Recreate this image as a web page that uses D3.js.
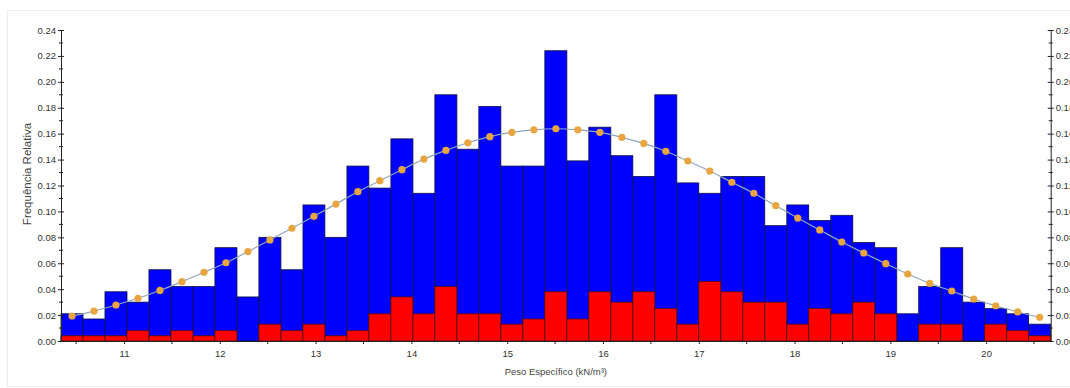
<!DOCTYPE html>
<html>
<head>
<meta charset="utf-8">
<script src="https://cdn.jsdelivr.net/npm/d3@7"></script>
<style>
  html, body { margin: 0; padding: 0; background: #fff; }
  svg { display: block; font-family: "Liberation Sans", Arial, sans-serif; }
</style>
</head>
<body>
<svg id="chart" width="1070" height="388"></svg>
<script>
// ---- Data ----
const binEdges = [10.342, 10.572, 10.801, 11.031, 11.260, 11.490, 11.720, 11.949, 12.179, 12.408,
  12.638, 12.868, 13.097, 13.327, 13.556, 13.786, 14.016, 14.245, 14.475, 14.704,
  14.934, 15.164, 15.393, 15.623, 15.852, 16.082, 16.312, 16.541, 16.771, 17.000,
  17.230, 17.460, 17.689, 17.919, 18.148, 18.378, 18.608, 18.837, 19.067, 19.296,
  19.526, 19.756, 19.985, 20.215, 20.444, 20.674];

const blueFreq = [0.021, 0.017, 0.038, 0.030, 0.055, 0.042, 0.042, 0.072, 0.034, 0.080,
  0.055, 0.105, 0.080, 0.135, 0.118, 0.156, 0.114, 0.190, 0.148, 0.181,
  0.135, 0.135, 0.224, 0.139, 0.165, 0.143, 0.127, 0.190, 0.122, 0.114,
  0.127, 0.127, 0.089, 0.105, 0.093, 0.097, 0.076, 0.072, 0.021, 0.042,
  0.072, 0.030, 0.025, 0.021, 0.013];

const redFreq = [0.004, 0.004, 0.004, 0.008, 0.004, 0.008, 0.004, 0.008, 0.000, 0.013,
  0.008, 0.013, 0.004, 0.008, 0.021, 0.034, 0.021, 0.042, 0.021, 0.021,
  0.013, 0.017, 0.038, 0.017, 0.038, 0.030, 0.038, 0.025, 0.013, 0.046,
  0.038, 0.030, 0.030, 0.013, 0.025, 0.021, 0.030, 0.021, 0.000, 0.013,
  0.013, 0.000, 0.013, 0.008, 0.004];

const normalFreq = [0.0193, 0.0231, 0.0278, 0.0330, 0.0390, 0.0458, 0.0530, 0.0604, 0.0690, 0.0780,
  0.0870, 0.0962, 0.1057, 0.1152, 0.1237, 0.1322, 0.1404, 0.1471, 0.1530, 0.1577,
  0.1610, 0.1630, 0.1638, 0.1630, 0.1610, 0.1572, 0.1525, 0.1464, 0.1389, 0.1312,
  0.1225, 0.1140, 0.1044, 0.0949, 0.0857, 0.0764, 0.0679, 0.0597, 0.0517, 0.0445,
  0.0386, 0.0324, 0.0272, 0.0224, 0.0183];

const xTickValues = [11, 12, 13, 14, 15, 16, 17, 18, 19, 20];
const xMinorValues = [10.5, 11.5, 12.5, 13.5, 14.5, 15.5, 16.5, 17.5, 18.5, 19.5, 20.5];
const yTickValues = [0, 0.02, 0.04, 0.06, 0.08, 0.10, 0.12, 0.14, 0.16, 0.18, 0.20, 0.22, 0.24];
const yMinorValues = [0.01, 0.03, 0.05, 0.07, 0.09, 0.11, 0.13, 0.15, 0.17, 0.19, 0.21, 0.23];

const xLabel = "Peso Específico (kN/m³)";
const yLabel = "Frequência Relativa";

// ---- Layout ----
const svg = d3.select("#chart");
const mLeft = 61, mRight = 1050.7, mTop = 30, mBottom = 341;

const x = d3.scaleLinear().domain([binEdges[0], binEdges[binEdges.length - 1]]).range([mLeft, mRight]);
const y = d3.scaleLinear().domain([0, 0.24]).range([mBottom, mTop]);

// outer faint frame
svg.append("rect")
  .attr("x", 7.5).attr("y", 10.5).attr("width", 1080).attr("height", 376)
  .attr("fill", "none").attr("stroke", "#ececec").attr("stroke-width", 1);

const bins = blueFreq.map((v, i) => ({ x0: binEdges[i], x1: binEdges[i + 1], blue: v, red: redFreq[i], norm: normalFreq[i] }));

// blue bars
svg.append("g").selectAll("rect").data(bins).join("rect")
  .attr("x", d => x(d.x0))
  .attr("width", d => x(d.x1) - x(d.x0))
  .attr("y", d => y(d.blue))
  .attr("height", d => y(0) - y(d.blue))
  .attr("fill", "#0000ff")
  .attr("stroke", "#10104a")
  .attr("stroke-width", 0.8);

// red bars
svg.append("g").selectAll("rect").data(bins.filter(d => d.red > 0)).join("rect")
  .attr("x", d => x(d.x0))
  .attr("width", d => x(d.x1) - x(d.x0))
  .attr("y", d => y(d.red))
  .attr("height", d => y(0) - y(d.red))
  .attr("fill", "#ff0000")
  .attr("stroke", "#4a1010")
  .attr("stroke-width", 0.8);

// normal curve
const line = d3.line()
  .x(d => x((d.x0 + d.x1) / 2))
  .y(d => y(d.norm))
  .curve(d3.curveMonotoneX);

svg.append("path").datum(bins)
  .attr("d", line)
  .attr("fill", "none")
  .attr("stroke", "#8ea6bd")
  .attr("stroke-width", 1.2);

svg.append("g").selectAll("circle").data(bins).join("circle")
  .attr("cx", d => x((d.x0 + d.x1) / 2))
  .attr("cy", d => y(d.norm))
  .attr("r", 3.6)
  .attr("fill", "#e9a53f");

// axes
const axisColor = "#222";
const textColor = "#333";
const fontFam = "'Liberation Sans', Arial, sans-serif";

// Left axis
const yAxisL = d3.axisLeft(y).tickValues(yTickValues).tickFormat(d3.format(".2f")).tickSizeInner(3).tickSizeOuter(0).tickPadding(2);
const gL = svg.append("g").attr("transform", `translate(${mLeft},0)`).call(yAxisL);
gL.select(".domain").attr("stroke", axisColor);
gL.selectAll(".tick line").attr("x1", 3).attr("x2", -3).attr("stroke", axisColor);
gL.selectAll(".tick text").attr("fill", textColor).style("font-size", "9.5px").style("font-family", fontFam);
gL.selectAll(".minor").data(yMinorValues).join("line").attr("class", "minor")
  .attr("x1", -2).attr("x2", 2).attr("y1", d => y(d)).attr("y2", d => y(d)).attr("stroke", axisColor);

// Right axis
const yAxisR = d3.axisRight(y).tickValues(yTickValues).tickFormat(d3.format(".2f")).tickSizeInner(3).tickSizeOuter(0).tickPadding(2);
const gR = svg.append("g").attr("transform", `translate(${mRight},0)`).call(yAxisR);
gR.select(".domain").attr("stroke", axisColor);
gR.selectAll(".tick line").attr("x1", -3).attr("x2", 3).attr("stroke", axisColor);
gR.selectAll(".tick text").attr("fill", textColor).style("font-size", "9.5px").style("font-family", fontFam);
gR.selectAll(".minor").data(yMinorValues).join("line").attr("class", "minor")
  .attr("x1", -2).attr("x2", 2).attr("y1", d => y(d)).attr("y2", d => y(d)).attr("stroke", axisColor);

// Bottom axis
const xAxis = d3.axisBottom(x).tickValues(xTickValues).tickFormat(d3.format("d")).tickSizeInner(3).tickSizeOuter(0).tickPadding(6);
const gB = svg.append("g").attr("transform", `translate(0,${mBottom})`).call(xAxis);
gB.select(".domain").attr("stroke", axisColor);
gB.selectAll(".tick line").attr("stroke", axisColor);
gB.selectAll(".tick text").attr("fill", textColor).style("font-size", "9.5px").style("font-family", fontFam);
gB.selectAll(".minor").data(xMinorValues).join("line").attr("class", "minor")
  .attr("x1", d => x(d)).attr("x2", d => x(d)).attr("y1", 0).attr("y2", 3).attr("stroke", axisColor);

// Axis labels
svg.append("text")
  .attr("x", (mLeft + mRight) / 2).attr("y", 375)
  .attr("text-anchor", "middle")
  .attr("fill", "#444")
  .style("font-size", "9.5px")
  .text(xLabel);

svg.append("text")
  .attr("transform", `translate(31,174) rotate(-90)`)
  .attr("text-anchor", "middle")
  .attr("fill", "#444")
  .style("font-size", "11.5px")
  .text(yLabel);
</script>
</body>
</html>
